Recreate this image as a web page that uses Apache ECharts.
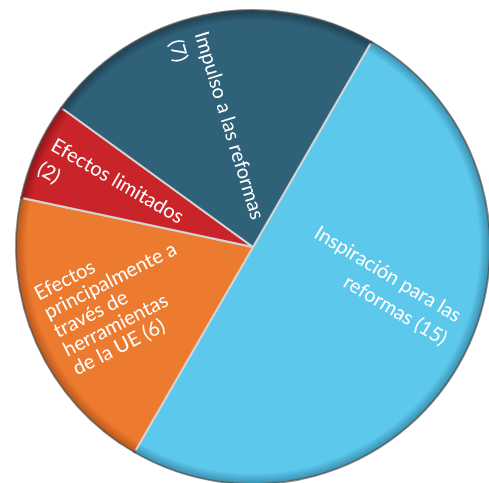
<!DOCTYPE html>
<html>
<head>
<meta charset="utf-8">
<script src="https://cdn.jsdelivr.net/npm/echarts@6/dist/echarts.min.js"></script>
<style>
html,body{margin:0;padding:0;background:#fff;}
#chart{width:489px;height:483px;}
</style>
</head>
<body>
<div id="chart"></div>
<script>
// Data
const categories = ['Inspiración para las reformas', 'Efectos principalmente a través de herramientas de la UE', 'Efectos limitados', 'Impulso a las reformas'];
const values = [15, 6, 2, 7];
const labelTemplates = ['Inspiración para las\nreformas ({c})', 'Efectos\nprincipalmente a\ntravés de\nherramientas\nde la UE ({c})', 'Efectos limitados\n({c})', 'Impulso a las reformas\n({c})'];

// Styles / layout
const CX = 253, CY = 247, R = 237;
const colors = ['#5bc8ec', '#ec7a2f', '#c8242a', '#2f6179'];
const rimColors = ['#3a8fb0', '#b8561a', '#8e1418', '#1d3f50'];
// screen offsets (px) from the default inside-label anchor
const labelStyles = [
  { align: 'right', rotate: -31, dx: 94, dy: 21, lineHeight: 27 },
  { align: 'left', rotate: 27, dx: -87, dy: 36, lineHeight: 21 },
  { align: 'left', rotate: -30, dx: -96, dy: -42, lineHeight: 27 },
  { align: 'left', rotate: -73, dx: -40, dy: -92, lineHeight: 27 }
];

function radial(stops) {
  return { type: 'radial', x: CX, y: CY, r: R, global: true, colorStops: stops };
}

const chart = echarts.init(document.getElementById('chart'), null, { renderer: 'canvas' });

const mainData = categories.map((name, i) => ({
  name, value: values[i],
  itemStyle: {
    color: radial([
      { offset: 0, color: colors[i] },
      { offset: 0.955, color: colors[i] },
      { offset: 1, color: rimColors[i] }
    ])
  },
  label: {
    formatter: labelTemplates[i],
    rotate: labelStyles[i].rotate,
    lineHeight: labelStyles[i].lineHeight
  }
}));

chart.setOption({
  animation: false,
  series: [
    {
      type: 'pie',
      silent: true,
      center: [String(CX), String(CY)],
      radius: [0, R],
      startAngle: 60,
      clockwise: true,
      itemStyle: {
        borderColor: radial([
          { offset: 0, color: '#d4d4d4' },
          { offset: 0.985, color: '#d4d4d4' },
          { offset: 1, color: 'rgba(40,40,40,0.55)' }
        ]),
        borderWidth: 2
      },
      label: {
        show: true,
        position: 'inside',
        color: '#ffffff',
        fontFamily: 'Lato',
        fontSize: 20
      },
      labelLine: { show: false },
      labelLayout: function (params) {
        const s = labelStyles[params.dataIndex];
        const t = s.rotate * Math.PI / 180;
        // dx/dy are applied in the label's rotated frame; convert screen offsets
        const ux = Math.cos(t), uy = -Math.sin(t);
        const vx = Math.sin(t), vy = Math.cos(t);
        return {
          align: s.align,
          verticalAlign: 'middle',
          rotate: s.rotate,
          dx: s.dx * ux + s.dy * uy,
          dy: s.dx * vx + s.dy * vy
        };
      },
      data: mainData
    }
  ]
});
</script>
</body>
</html>
